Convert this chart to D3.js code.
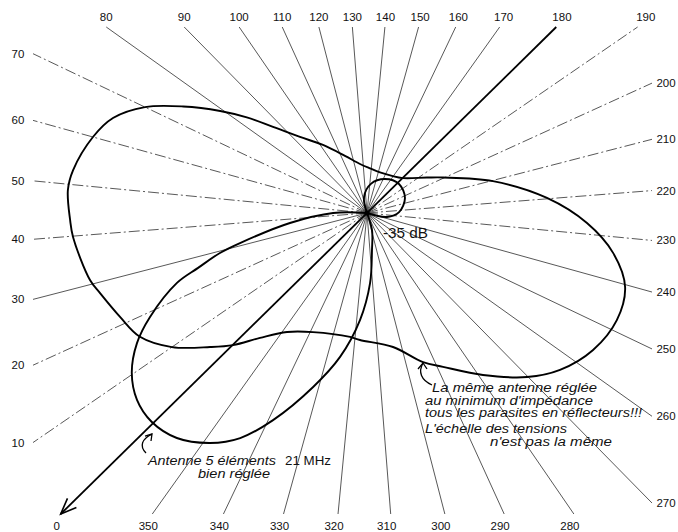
<!DOCTYPE html>
<html><head><meta charset="utf-8">
<script src="https://cdn.jsdelivr.net/npm/d3@7"></script>
<style>html,body{margin:0;padding:0;background:#fff;} svg{display:block;}</style>
</head><body>
<svg id="chart" width="678" height="532"></svg>
<script>
// ---------- data ----------
const spokeLabels = [0,10,20,30,40,50,60,70,80,90,100,110,120,130,140,150,160,170,
                     180,190,200,210,220,230,240,250,260,270,280,290,300,310,320,330,340,350];
const dashDotSpokes = [10,20,40,50,60,70,190,200,210,220,230];

// "Antenne 5 éléments 21 MHz bien réglée" - main lobe (relative voltage, max 100)
const tunedMainAngles = [44.5,44.5,37.1,31.2,29.3,26.5,24.3,18.9,15.0,10.3,5.4,0.4,
                         354.7,348.8,343.9,338.9,331.7,325.1,318.2,312.0,306.8,298.1,298.1];
const tunedMainValues = [0,11.3,25.9,43.5,50.8,59.2,67.5,80.2,88.1,94.8,98.8,100,
                         98.2,92.8,86.1,75.8,60.7,48.8,35.7,23.4,12.4,5.9,0];
// same antenna - small back lobe (-35 dB)
const tunedBackAngles = [100,123.9,142.1,162.4,182.3,203.0,222.9,235.8,250];
const tunedBackValues = [0,5.4,9.8,12.8,14.4,13.6,10.7,6.8,0];

// "La même antenne réglée au minimum d'impédance ..." (relative voltage, max 100)
const reflectAngles = [4.0,10.0,15.9,21.7,27.8,30.9,39.8,43.2,48.9,52.8,60.0,65.0,70.0,74.6,
                       79.3,83.0,87.0,93.1,101.6,113.4,126.4,138.4,152.3,168.5,180.3,193.9,
                       199.5,210.3,219.7,227.1,233.7,240.5,247.7,255.7,263.6,270.2,278.9,
                       288.2,293.9,303.5,317.7,322.3,338.9,348.4,355.1,359.9];
const reflectValues = [68.8,78.9,86.2,89.3,92.9,95.0,98.3,99.0,100.0,99.0,94.8,90.4,82.0,70.8,
                       59.6,51.2,42.5,33.8,27.0,20.4,16.5,14.9,14.2,14.9,16.7,23.2,
                       28.0,43.3,60.2,73.4,83.1,89.5,90.6,88.1,82.9,76.4,66.4,
                       57.2,53.1,45.5,42.4,41.7,43.6,47.8,54.8,62.7];

const annotTuned = ["Antenne 5 éléments", "21 MHz", "bien réglée"];
const annotReflect = ["La même antenne réglée", "au minimum  d'impédance",
                      "tous les parasites en réflecteurs!!!",
                      "L'échelle des tensions", "n'est pas la même"];
const backLobeLabel = "-35 dB";

// ---------- layout ----------
const W = 678, H = 532, cx = 367, cy = 213;
const frame = {left: 33, right: 652, top: 27, bottom: 514};
const deg2rad = Math.PI / 180;
const angle = d3.scaleLinear().domain([0, 360]).range([225.5 * deg2rad, 585.5 * deg2rad]);
const radius = d3.scaleLinear().domain([0, 100]).range([0, 300]);

const svg = d3.select("#chart");
svg.append("rect").attr("width", W).attr("height", H).attr("fill", "#fff");
const g = svg.append("g").attr("transform", `translate(${cx},${cy})`);

function spokeEnd(deg) {
  const a = angle(deg), dx = Math.sin(a), dy = -Math.cos(a);
  let t = Infinity, side = null;
  const test = (tt, s) => { if (tt > 0 && tt < t) { t = tt; side = s; } };
  if (dx > 1e-9) test((frame.right - cx) / dx, "right");
  if (dx < -1e-9) test((frame.left - cx) / dx, "left");
  if (dy > 1e-9) test((frame.bottom - cy) / dy, "bottom");
  if (dy < -1e-9) test((frame.top - cy) / dy, "top");
  return {x: dx * t, y: dy * t, side};
}

// spokes
const spokes = g.append("g");
spokeLabels.filter(d => d !== 0 && d !== 180).forEach(d => {
  const e = spokeEnd(d);
  spokes.append("line")
    .attr("x1", 0).attr("y1", 0).attr("x2", e.x).attr("y2", e.y)
    .attr("stroke", "#3a3a3a").attr("stroke-width", 0.85)
    .attr("stroke-dasharray", dashDotSpokes.includes(d) ? "11,3,2,3" : null);
});

// main axis 0 - 180 with arrow at 0
const e0 = spokeEnd(0), e180 = spokeEnd(180);
g.append("line").attr("x1", e0.x).attr("y1", e0.y).attr("x2", e180.x).attr("y2", e180.y)
  .attr("stroke", "#000").attr("stroke-width", 1.8);
{
  const a = Math.atan2(-e0.y, -e0.x);
  const L = 17, spread = 22 * deg2rad;
  const p1 = [e0.x + L * Math.cos(a + spread), e0.y + L * Math.sin(a + spread)];
  const p2 = [e0.x + L * Math.cos(a - spread), e0.y + L * Math.sin(a - spread)];
  g.append("path").attr("d", `M${p1}L${e0.x},${e0.y}L${p2}`)
    .attr("fill", "none").attr("stroke", "#000").attr("stroke-width", 1.6);
}

// spoke labels
spokeLabels.forEach(d => {
  const e = spokeEnd(d);
  let x = e.x + cx, y = e.y + cy;
  if (e.side === "top") { y = 17; if (x > cx) x += (x - cx) * 0.03; }
  else if (e.side === "bottom") { y = 526; x -= 4; }
  else if (e.side === "left") x = 18;
  else if (e.side === "right") x = 666;
  svg.append("text").attr("x", x).attr("y", y)
    .attr("text-anchor", "middle").attr("dominant-baseline", "central")
    .attr("font-family", "Liberation Sans, Arial, sans-serif")
    .attr("font-size", 11.5).attr("fill", "#111").text(d);
});

// patterns
const toPts = (angs, vals) => angs.map((a, i) => [angle(a), radius(vals[i])]);
const radialOpen = d3.lineRadial().curve(d3.curveCatmullRom.alpha(0.5));
const radialClosed = d3.lineRadial().curve(d3.curveCatmullRomClosed.alpha(0.5));

g.append("path").attr("d", radialClosed(toPts(reflectAngles, reflectValues)))
  .attr("fill", "none").attr("stroke", "#000").attr("stroke-width", 1.9);
g.append("path").attr("d", radialOpen(toPts(tunedMainAngles, tunedMainValues)))
  .attr("fill", "none").attr("stroke", "#000").attr("stroke-width", 1.9);
g.append("path").attr("d", radialOpen(toPts(tunedBackAngles, tunedBackValues)))
  .attr("fill", "none").attr("stroke", "#000").attr("stroke-width", 1.9);

g.append("circle").attr("r", 2.5).attr("fill", "#000");

// annotations
const fontFam = "Liberation Sans, Arial, sans-serif";
function txt(s, x, y, len, italic, size) {
  const t = svg.append("text").attr("x", x).attr("y", y)
    .attr("font-family", fontFam).attr("font-size", size || 12)
    .attr("font-style", italic ? "italic" : "normal").attr("fill", "#111").text(s);
  if (len) t.attr("textLength", len).attr("lengthAdjust", "spacingAndGlyphs");
  return t;
}
txt(backLobeLabel, 383, 238, 45, false, 14);

txt(annotTuned[0], 148, 465, 128, true, 12);
txt(annotTuned[1], 285, 465, 46, false, 12);
txt(annotTuned[2], 198, 477.5, 72, true, 12);

txt(annotReflect[0], 432, 392, 165, true, 12);
txt(annotReflect[1], 425, 404.5, 168, true, 12);
txt(annotReflect[2], 425, 417, 217, true, 12);
txt(annotReflect[3], 425, 433, 142, true, 12);
txt(annotReflect[4], 490, 445.5, 122, true, 12);

function arrow(d, tip, arms) {
  svg.append("path").attr("d", d).attr("fill", "none").attr("stroke", "#000").attr("stroke-width", 1.3);
  svg.append("path").attr("d", `M${arms[0]}L${tip}L${arms[1]}`)
    .attr("fill", "none").attr("stroke", "#000").attr("stroke-width", 1.3);
}
arrow("M146,453 C139,446 142,439 152,434", [152, 434], [[145, 436], [151, 441]]);
arrow("M432,385 C421,380 418,372 423,363", [423, 363], [[418, 369], [427, 369]]);
</script>
</body></html>
